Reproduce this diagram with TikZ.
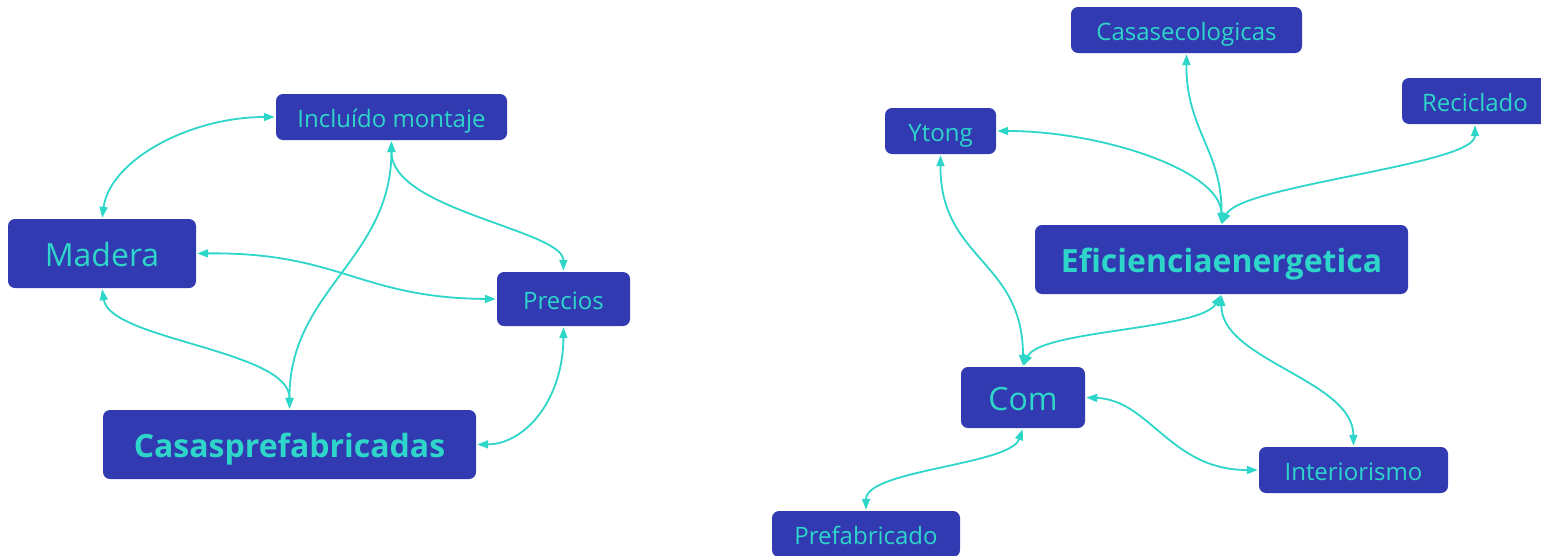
\documentclass[tikz,border=0pt]{standalone}
\usepackage{fontspec}
\setmainfont{Open Sans}
\usetikzlibrary{arrows.meta}
\definecolor{boxfill}{HTML}{323AB2}
\definecolor{cyanink}{HTML}{2DD6C9}
\tikzset{
  concept/.style={draw=none, fill=boxfill, rounded corners=7pt, text=cyanink, inner sep=0pt, align=center, text depth=0pt},
  small/.style={concept, font=\fontsize{24}{29}\selectfont, text height=20pt},
  large/.style={concept, font=\fontsize{32}{38}\selectfont, text height=26.5pt},
  main/.style={concept, font=\fontsize{32}{38}\selectfont\bfseries, text height=26.5pt},
  link/.style={draw=cyanink, line width=1.8pt, {Triangle[length=11pt,width=8pt]}-{Triangle[length=11pt,width=8pt]}, shorten <=1pt, shorten >=1pt}
}
\begin{document}
\begin{tikzpicture}[x=1pt,y=-1pt]
\path[use as bounding box, clip] (0,0) rectangle (1541,555);
% left cluster
\node[small, minimum width=231pt, minimum height=46pt] (inc) at (391.5,117) {Incluído montaje};
\node[large, minimum width=188pt, minimum height=69pt] (mad) at (102,253.5) {Madera};
\node[small, minimum width=133pt, minimum height=54pt] (pre) at (563.5,299) {Precios};
\node[main, minimum width=373pt, minimum height=69pt] (cas) at (289.5,444.5) {Casasprefabricadas};
% right cluster
\node[small, minimum width=231pt, minimum height=46pt] (eco) at (1186.5,30) {Casasecologicas};
\node[small, minimum width=146pt, minimum height=46pt] (rec) at (1475,101) {Reciclado};
\node[small, minimum width=111pt, minimum height=46pt] (yto) at (940.5,131) {Ytong};
\node[main, minimum width=373pt, minimum height=69pt] (efi) at (1221.5,259.5) {Eficienciaenergetica};
\node[large, minimum width=124pt, minimum height=61pt] (com) at (1023,397.5) {Com};
\node[small, minimum width=189pt, minimum height=46pt] (int) at (1353.5,470) {Interiorismo};
\node[small, minimum width=188pt, minimum height=46pt] (fab) at (866,534) {Prefabricado};
% left links
\draw[link] (mad.north) .. controls (110,160) and (190,117) .. (inc.west);
\draw[link] (mad.east) .. controls (340,252) and (360,298) .. (pre.west);
\draw[link] (inc.south) .. controls (391,210) and (563,230) .. (pre.north);
\draw[link] (inc.south) .. controls (391,260) and (289,290) .. (cas.north);
\draw[link] (mad.south) .. controls (110,340) and (290,350) .. (cas.north);
\draw[link] (pre.south) .. controls (563,400) and (525,444) .. (cas.east);
% right links
\draw[link] (efi.north) .. controls (1222,150) and (1186,130) .. (eco.south);
\draw[link] (efi.north) .. controls (1221,170) and (1100,131) .. (yto.east);
\draw[link] (efi.north) .. controls (1240,185) and (1475,165) .. (rec.south);
\draw[link] (yto.south) .. controls (940,260) and (1023,260) .. (com.north);
\draw[link] (efi.south) .. controls (1200,330) and (1040,330) .. (com.north);
\draw[link] (efi.south) .. controls (1221,360) and (1353,380) .. (int.north);
\draw[link] (com.east) .. controls (1150,400) and (1170,470) .. (int.west);
\draw[link] (com.south) .. controls (1010,465) and (866,470) .. (fab.north);
\end{tikzpicture}
\end{document}
